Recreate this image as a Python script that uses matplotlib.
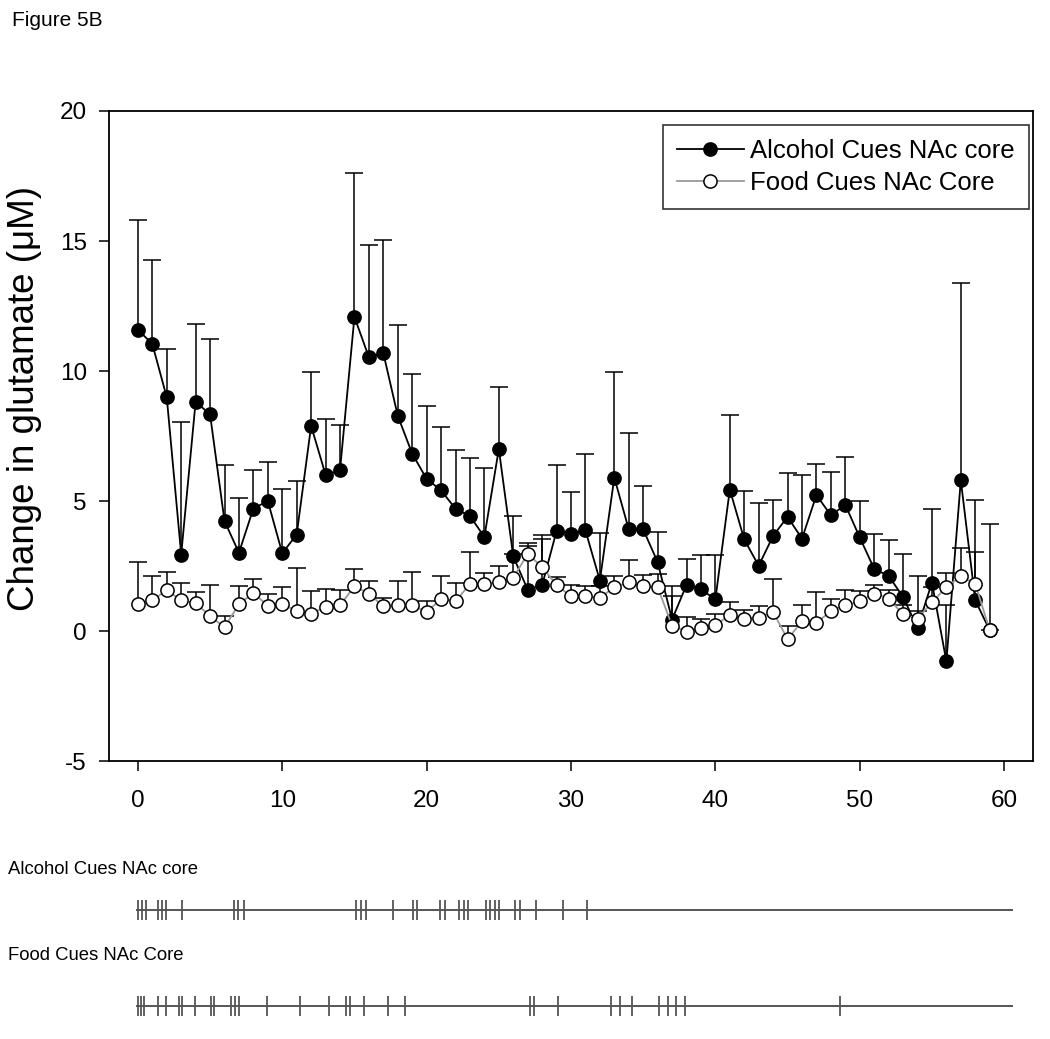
import numpy as np
import matplotlib
matplotlib.use("Agg")
import matplotlib.pyplot as plt

plt.rcParams['font.family'] = ['Liberation Sans', 'DejaVu Sans']
plt.rcParams['axes.unicode_minus'] = False

# minutes (x axis)
t = np.arange(60)

# Alcohol Cues NAc core: mean and SEM (upper bar only)
alc_mean = [11.59, 11.04, 8.99, 2.94, 8.82, 8.33, 4.23, 3.01, 4.71, 5.00,
            2.99, 3.71, 7.89, 6.01, 6.18, 12.08, 10.53, 10.69, 8.28, 6.82,
            5.85, 5.41, 4.70, 4.42, 3.62, 7.00, 2.87, 1.59, 1.76, 3.85,
            3.75, 3.87, 1.94, 5.90, 3.91, 3.91, 2.65, 0.44, 1.77, 1.60,
            1.22, 5.44, 3.52, 2.51, 3.66, 4.39, 3.55, 5.23, 4.45, 4.85,
            3.60, 2.39, 2.12, 1.31, 0.12, 1.86, -1.17, 5.80, 1.18, 0.03]
alc_sem = [4.23, 3.22, 1.84, 5.09, 2.98, 2.90, 2.14, 2.11, 1.47, 1.51,
           2.47, 2.05, 2.09, 2.14, 1.74, 5.52, 4.33, 4.36, 3.47, 3.05,
           2.79, 2.44, 2.28, 2.24, 2.65, 2.37, 1.55, 1.79, 1.95, 2.52,
           1.58, 2.94, 1.83, 4.06, 3.71, 1.66, 1.16, 1.28, 1.01, 1.31,
           1.69, 2.87, 1.86, 2.42, 1.37, 1.69, 2.46, 1.19, 1.67, 1.86,
           1.40, 1.33, 1.37, 1.67, 2.01, 2.85, 2.18, 7.57, 3.85, 4.10]

# Food Cues NAc Core
food_mean = [1.05, 1.18, 1.57, 1.18, 1.08, 0.57, 0.15, 1.03, 1.46, 0.98,
             1.03, 0.77, 0.67, 0.92, 0.99, 1.72, 1.44, 0.95, 1.01, 0.99,
             0.73, 1.23, 1.15, 1.80, 1.80, 1.87, 2.04, 2.97, 2.46, 1.77,
             1.33, 1.33, 1.28, 1.68, 1.87, 1.72, 1.68, 0.21, -0.02, 0.12,
             0.22, 0.62, 0.48, 0.50, 0.73, -0.31, 0.37, 0.31, 0.77, 0.99,
             1.14, 1.44, 1.25, 0.64, 0.48, 1.10, 1.69, 2.10, 1.82, 0.03]
food_sem = [1.62, 0.92, 0.71, 0.67, 0.42, 1.19, 0.42, 0.70, 0.55, 0.43,
            0.66, 1.65, 0.85, 0.71, 0.58, 0.68, 0.47, 0.32, 0.90, 1.27,
            0.42, 0.89, 0.70, 1.24, 0.42, 0.63, 0.91, 0.29, 1.09, 0.31,
            0.43, 0.39, 0.44, 0.42, 0.87, 0.42, 0.52, 1.12, 0.56, 0.33,
            0.45, 0.50, 0.34, 0.45, 1.26, 0.50, 0.64, 1.18, 0.48, 0.59,
            0.40, 0.34, 0.32, 0.35, 0.28, 0.59, 0.55, 1.09, 1.22, 0.00]

# cue presentation times (min)
alc_cues = [0.02, 0.28, 0.57, 1.40, 1.66, 1.93, 3.04, 6.66, 6.94, 7.35,
            15.09, 15.46, 15.83, 17.69, 19.03, 19.35, 20.96, 21.29, 22.21,
            22.56, 22.88, 24.10, 24.40, 24.73, 25.02, 26.15, 26.47, 27.60,
            29.44, 31.10]
food_cues = [0.02, 0.21, 0.44, 1.40, 1.98, 2.85, 3.09, 3.94, 5.04, 5.27,
             6.48, 6.72, 7.00, 8.94, 11.20, 13.27, 14.42, 14.67, 15.64,
             17.30, 18.50, 27.18, 27.45, 29.08, 32.80, 33.40, 34.20, 36.10,
             36.70, 37.30, 37.90, 48.60]

labels = ["Alcohol Cues NAc core", "Food Cues NAc Core"]

W, H = 1050, 1039
fig = plt.figure(figsize=(W / 100, H / 100), dpi=100)

L, R = 109 / W, 1033 / W
ax = fig.add_axes([L, 1 - 761 / H, R - L, (761 - 111) / H])


def up_errbar(x, m, s, z):
    # only the upper half of the error bar, like the original
    m = np.asarray(m)
    s = np.asarray(s)
    eb = ax.errorbar(x, m, yerr=[np.zeros_like(s), s], fmt='none',
                     ecolor='black', elinewidth=1.1, capsize=6.8,
                     capthick=1.1, zorder=z)
    eb[1][0].set_visible(False)


up_errbar(t, alc_mean, alc_sem, 2)
up_errbar(t, food_mean, food_sem, 2)

ax.plot(t, alc_mean, color='black', lw=1.3, marker='o', ms=9.5,
        mfc='black', mec='black', mew=1.1, zorder=3, label=labels[0])
ax.plot(t, food_mean, color='#999999', lw=1.3, marker='o', ms=9.5,
        mfc='white', mec='black', mew=1.1, zorder=4, label=labels[1])

ax.set_xlim(-2, 62)
ax.set_ylim(-5, 20)
ax.set_xticks([0, 10, 20, 30, 40, 50, 60])
ax.set_yticks([-5, 0, 5, 10, 15, 20])
ax.tick_params(direction='out', length=7, width=1.1, labelsize=17.5)
ax.tick_params(axis='x', pad=14)
ax.tick_params(axis='y', pad=9)
for sp in ax.spines.values():
    sp.set_linewidth(1.3)

ax.set_ylabel("Change in glutamate (\u03bcM)", fontsize=26.5)
ax.yaxis.set_label_coords(-0.072, 0.558)

leg = ax.legend(loc='upper right', bbox_to_anchor=(0.9957, 0.9785),
                borderaxespad=0, fontsize=18.5, frameon=True, fancybox=False,
                edgecolor='black', handlelength=2.6, handletextpad=0.25,
                labelspacing=0.3, borderpad=0.55)
leg.get_frame().set_linewidth(1.2)

# cue rasters underneath
for cues, yc in ((alc_cues, 910), (food_cues, 1006)):
    rax = fig.add_axes([L, 1 - (yc + 15) / H, R - L, 30 / H])
    rax.set_xlim(-2, 62)
    rax.set_ylim(-1.5, 1.5)
    rax.hlines(0, -0.15, 60.6, color='#3a3a3a', lw=1.2)
    rax.vlines(cues, -1, 1, color='#555555', lw=1.3)
    rax.axis('off')

fig.text(12 / W, 1 - 20 / H, "Figure 5B", fontsize=15, va='center')
fig.text(8 / W, 1 - 870 / H, labels[0], fontsize=13.3, va='center')
fig.text(8 / W, 1 - 955 / H, labels[1], fontsize=13.3, va='center')

fig.savefig("out.png", dpi=100)
